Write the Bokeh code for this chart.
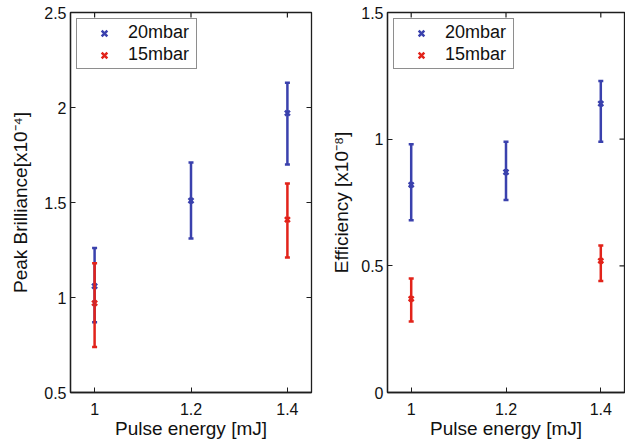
import math
from bokeh.plotting import figure
from bokeh.layouts import row
from bokeh.models import (ColumnDataSource, Whisker, TeeHead, FixedTicker,
                          Range1d, Legend, LegendItem)
from bokeh.embed import file_html
from bokeh.resources import INLINE

# ---- data ----
energy = [1.0, 1.2, 1.4]
energy_15 = [1.0, 1.4]

bril_20 = [1.06, 1.51, 1.97]
bril_20_hi = [1.26, 1.71, 2.13]
bril_20_lo = [0.87, 1.31, 1.70]
bril_15 = [0.97, 1.41]
bril_15_hi = [1.18, 1.60]
bril_15_lo = [0.74, 1.21]

eff_20 = [0.82, 0.87, 1.14]
eff_20_hi = [0.98, 0.99, 1.23]
eff_20_lo = [0.68, 0.76, 0.99]
eff_15 = [0.37, 0.52]
eff_15_hi = [0.45, 0.58]
eff_15_lo = [0.28, 0.44]

x_ticks = [1.0, 1.2, 1.4]
x_tick_labels = {1.0: "1", 1.2: "1.2", 1.4: "1.4"}
left_y_ticks = [0.5, 1.0, 1.5, 2.0, 2.5]
left_y_labels = {0.5: "0.5", 1.0: "1", 1.5: "1.5", 2.0: "2", 2.5: "2.5"}
right_y_ticks = [0.0, 0.5, 1.0, 1.5]
right_y_labels = {0.0: "0", 0.5: "0.5", 1.0: "1", 1.5: "1.5"}

BLUE = "#3a41ad"
RED = "#e2231a"
FONT = "Liberation Sans"
FRAME = "#1e1e1e"
TXT = "#111111"


def make_panel(width, height, ylim, yticks, ylabels, ylabel, s20, s15,
               border_left, border_right, ylabel_standoff):
    xlim = (0.95, 1.45)
    p = figure(width=width, height=height, output_backend="svg", toolbar_location=None,
               x_range=Range1d(*xlim), y_range=Range1d(*ylim),
               min_border_left=border_left, min_border_right=border_right,
               min_border_top=12, min_border_bottom=48)
    p.xgrid.visible = False
    p.ygrid.visible = False
    p.outline_line_color = FRAME
    p.outline_line_width = 1.3
    p.background_fill_color = "white"
    p.border_fill_color = "white"

    for ax in (p.xaxis[0], p.yaxis[0]):
        ax.major_tick_in = 5
        ax.major_tick_out = 0
        ax.minor_tick_line_color = None
        ax.axis_line_color = FRAME
        ax.axis_line_width = 1.3
        ax.major_tick_line_color = FRAME
        ax.major_label_text_font = FONT
        ax.major_label_text_font_size = "16px"
        ax.major_label_text_color = TXT
        ax.axis_label_text_font = FONT
        ax.axis_label_text_font_size = "19px"
        ax.axis_label_text_font_style = "normal"
        ax.axis_label_text_color = TXT

    p.xaxis[0].ticker = FixedTicker(ticks=x_ticks)
    p.xaxis[0].major_label_overrides = x_tick_labels
    p.xaxis[0].axis_label = "Pulse energy [mJ]"
    p.xaxis[0].major_label_standoff = 10
    p.xaxis[0].axis_label_standoff = 0
    p.yaxis[0].ticker = FixedTicker(ticks=yticks)
    p.yaxis[0].major_label_overrides = ylabels
    p.yaxis[0].axis_label = ylabel
    p.yaxis[0].major_label_standoff = 4
    p.yaxis[0].axis_label_standoff = ylabel_standoff

    # mirrored inward ticks on the top and right frame edges (clipped to the frame)
    p.scatter(x=x_ticks, y=[ylim[1]] * len(x_ticks), marker="dash", angle=math.pi / 2,
              size=10, line_color=FRAME, line_width=1.2)
    p.scatter(x=[xlim[1]] * len(yticks), y=yticks, marker="dash",
              size=10, line_color=FRAME, line_width=1.2)

    items = []
    for (xs, ys, hi, lo), color, label in ((s20, BLUE, "20mbar"), (s15, RED, "15mbar")):
        src = ColumnDataSource(dict(x=xs, y=ys, upper=hi, lower=lo))
        w = Whisker(source=src, base="x", upper="upper", lower="lower",
                    line_color=color, line_width=2.5, level="glyph",
                    upper_head=TeeHead(size=5, line_color=color, line_width=2.5),
                    lower_head=TeeHead(size=5, line_color=color, line_width=2.5))
        p.add_layout(w)
        r = p.scatter("x", "y", source=src, marker="x", size=7, line_color=color,
                      line_width=2.5)
        items.append(LegendItem(label=label, renderers=[r]))

    leg = Legend(items=items, location="top_left")
    leg.border_line_color = FRAME
    leg.border_line_width = 1
    leg.label_text_font = FONT
    leg.label_text_font_size = "18px"
    leg.label_text_color = TXT
    leg.glyph_width = 48
    leg.glyph_height = 20
    leg.label_height = 20
    leg.label_width = 65
    leg.label_standoff = 0
    leg.spacing = 1
    leg.padding = 3
    leg.margin = 6
    leg.background_fill_alpha = 1
    p.add_layout(leg)
    return p


left = make_panel(328, 441, (0.5, 2.5), left_y_ticks, left_y_labels,
                  "Peak Brilliance[x10\u207b\u2074]",
                  (energy, bril_20, bril_20_hi, bril_20_lo),
                  (energy_15, bril_15, bril_15_hi, bril_15_lo),
                  70, 17, 10)
right_p = make_panel(297, 441, (0.0, 1.5), right_y_ticks, right_y_labels,
                     "Efficiency [x10\u207b\u2078]",
                     (energy, eff_20, eff_20_hi, eff_20_lo),
                     (energy_15, eff_15, eff_15_hi, eff_15_lo),
                     59, 1, 6)

layout = row(left, right_p)
open("out.html", "w").write(file_html(layout, INLINE))
